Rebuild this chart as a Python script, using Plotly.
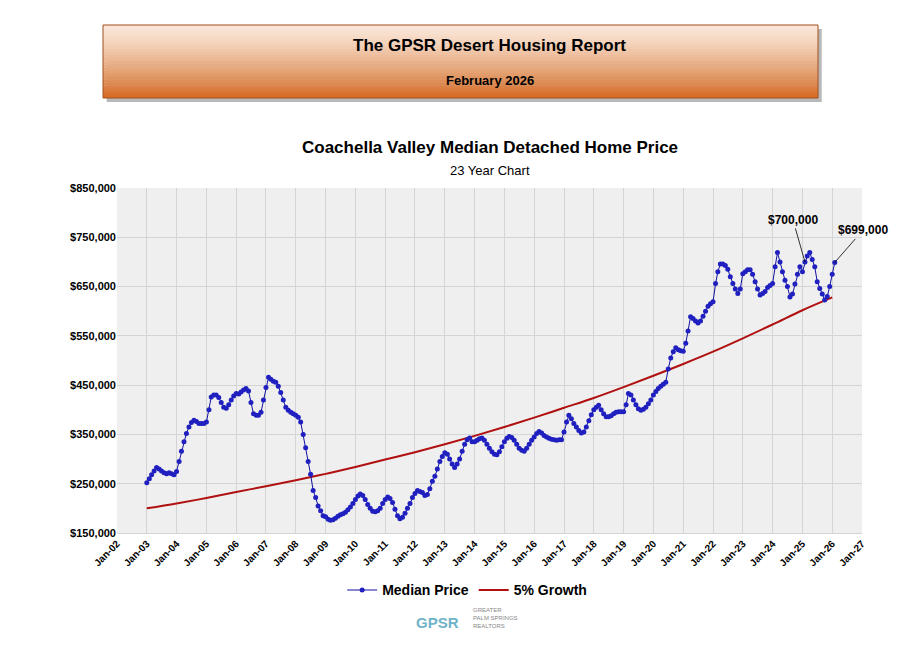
import plotly.graph_objects as go
import pandas as pd

median_by_year = {
    2003: [252, 260, 268, 276, 283, 280, 276, 272, 270, 272, 270, 268],
    2004: [275, 295, 316, 335, 352, 365, 374, 379, 376, 372, 372, 372],
    2005: [375, 400, 426, 430, 430, 425, 415, 405, 403, 410, 420, 428],
    2006: [433, 432, 436, 440, 443, 438, 415, 392, 389, 389, 395, 420],
    2007: [445, 466, 462, 458, 456, 448, 435, 420, 405, 399, 395, 392],
    2008: [389, 385, 375, 350, 323, 295, 269, 236, 222, 205, 195, 185],
    2009: [183, 178, 176, 177, 180, 184, 187, 189, 192, 197, 203, 210],
    2010: [218, 225, 229, 226, 218, 208, 200, 194, 193, 195, 200, 210],
    2011: [218, 223, 220, 212, 198, 185, 179, 182, 190, 200, 210, 222],
    2012: [230, 236, 234, 232, 226, 228, 240, 255, 265, 280, 295, 305],
    2013: [313, 310, 300, 290, 283, 290, 300, 316, 330, 339, 343, 335],
    2014: [335, 338, 341, 343, 338, 330, 322, 315, 310, 309, 315, 325],
    2015: [335, 342, 346, 344, 338, 330, 322, 318, 316, 322, 330, 338],
    2016: [345, 352, 356, 353, 348, 345, 342, 340, 339, 338, 339, 339],
    2017: [355, 375, 389, 382, 372, 365, 358, 353, 355, 365, 378, 390],
    2018: [400, 405, 409, 400, 392, 386, 386, 388, 392, 395, 396, 396],
    2019: [396, 410, 433, 430, 420, 410, 402, 399, 401, 405, 412, 420],
    2020: [430, 437, 443, 448, 452, 456, 483, 505, 518, 526, 522, 520],
    2021: [519, 535, 560, 589, 585, 580, 576, 580, 590, 600, 610, 615],
    2022: [619, 656, 680, 696, 696, 693, 685, 670, 656, 645, 636, 645],
    2023: [676, 680, 684, 684, 675, 660, 645, 633, 636, 640, 648, 652],
    2024: [656, 690, 719, 700, 680, 663, 650, 629, 635, 655, 675, 690],
    2025: [680, 700, 712, 719, 705, 690, 660, 646, 635, 623, 630, 650],
    2026: [675, 699],
}
growth_years = list(range(2003, 2027))
growth_values = [200, 210, 221, 233, 245, 257, 270, 284, 299, 314, 330, 347,
                 365, 384, 404, 424, 446, 469, 493, 518, 545, 573, 602, 628]
tick_years = list(range(2002, 2028))
y_ticks = [150, 250, 350, 450, 550, 650, 750, 850]

med_x, med_y = [], []
for yr, vals in median_by_year.items():
    for m, v in enumerate(vals):
        med_x.append(pd.Timestamp(yr, m + 1, 1))
        med_y.append(v * 1000)
g_x = [pd.Timestamp(y, 1, 1) for y in growth_years]
g_y = [v * 1000 for v in growth_values]

F = "Arial, Liberation Sans, sans-serif"
fig = go.Figure()
fig.add_trace(go.Scatter(x=g_x, y=g_y, mode="lines", name="<b>5% Growth</b>",
                         line=dict(color="#b01010", width=2), line_shape="spline"))
fig.add_trace(go.Scatter(x=med_x, y=med_y, mode="lines+markers", name="<b>Median Price</b>",
                         line=dict(color="#1010a0", width=1),
                         marker=dict(color="#2020c0", size=5)))

ann = []
ann.append(dict(x=med_x[-13], y=med_y[-13], text="<b>$700,000</b>", ax=-12, ay=-42,
                showarrow=True, arrowhead=0, arrowwidth=0.8, arrowcolor="black",
                font=dict(size=12, color="black", family=F)))
ann.append(dict(x=med_x[-1], y=med_y[-1], text="<b>$699,000</b>", ax=28, ay=-32,
                showarrow=True, arrowhead=0, arrowwidth=0.8, arrowcolor="black",
                font=dict(size=12, color="black", family=F)))
ann.append(dict(xref="paper", yref="paper", x=0.5, y=1.0, yshift=52, showarrow=False,
                text="<b>Coachella Valley Median Detached Home Price</b>",
                font=dict(size=17, color="black", family=F)))
ann.append(dict(xref="paper", yref="paper", x=0.5, y=1.0, yshift=27, showarrow=False,
                text="23 Year Chart", font=dict(size=13, color="black", family=F)))
ann.append(dict(xref="paper", yref="paper", x=0.5, y=1.0, yshift=154, showarrow=False,
                text="<b>The GPSR Desert Housing Report</b>",
                font=dict(size=17, color="black", family=F)))
ann.append(dict(xref="paper", yref="paper", x=0.5, y=1.0, yshift=117, showarrow=False,
                text="<b>February 2026</b>", font=dict(size=13, color="black", family=F)))
ann.append(dict(xref="paper", yref="paper", x=0.43, y=0, yshift=-100, showarrow=False,
                text="<b>GPSR</b>", font=dict(size=15, color="#6fb3c8", family=F)))
ann.append(dict(xref="paper", yref="paper", x=0.475, y=0, yshift=-98, showarrow=False,
                text="GREATER<br>PALM SPRINGS<br>REALTORS", align="left", xanchor="left",
                font=dict(size=6, color="#888888", family=F)))

shapes = []
x0p, x1p = (103 - 117) / 745, (818 - 117) / 745
n = 24
top, bot = 25, 98
shapes.append(dict(type="rect", xref="paper", yref="paper", x0=x0p + 0.005, x1=x1p + 0.005,
                   y0=(533 - bot - 4) / 345, y1=(533 - top - 4) / 345,
                   fillcolor="#b8b8b8", line_width=0, layer="below"))
c0, c1 = (250, 230, 215), (214, 110, 40)
for i in range(n):
    t = i / (n - 1)
    c = tuple(int(c0[k] + (c1[k] - c0[k]) * t ** 1.3) for k in range(3))
    ya = top + (bot - top) * i / n
    yb = top + (bot - top) * (i + 1) / n
    shapes.append(dict(type="rect", xref="paper", yref="paper", x0=x0p, x1=x1p,
                       y0=(533 - yb) / 345, y1=(533 - ya) / 345 + 0.001,
                       fillcolor="rgb(%d,%d,%d)" % c, line_width=0, layer="below"))
shapes.append(dict(type="rect", xref="paper", yref="paper", x0=x0p, x1=x1p,
                   y0=(533 - bot) / 345, y1=(533 - top) / 345,
                   line=dict(color="#a05020", width=1)))

fig.update_layout(
    width=916, height=648, paper_bgcolor="white", plot_bgcolor="#efefef",
    margin=dict(l=109, r=62, t=180, b=123),
    showlegend=True,
    legend=dict(orientation="h", x=0.47, xanchor="center", y=-0.12, yanchor="top",
                traceorder="reversed",
                font=dict(size=14, family=F, color="black")),
    annotations=ann, shapes=shapes,
    xaxis=dict(type="date", range=[pd.Timestamp(2002, 1, 1), pd.Timestamp(2027, 1, 1)],
               tickvals=[pd.Timestamp(y, 1, 1) for y in tick_years],
               ticktext=["<b>Jan-%02d</b>" % (y % 100) for y in tick_years],
               tickangle=-45, tickfont=dict(size=10, family=F, color="black"),
               showgrid=True, gridcolor="#d4d4d4", zeroline=False,
               showline=True, linecolor="#d4d4d4"),
    yaxis=dict(range=[150000, 850000], tickvals=[v * 1000 for v in y_ticks],
               ticktext=["<b>$%s</b>" % format(v * 1000, ",") for v in y_ticks],
               tickfont=dict(size=11, family=F, color="black"),
               showgrid=True, gridcolor="#d4d4d4", zeroline=False),
)
fig.write_html("out.html")
